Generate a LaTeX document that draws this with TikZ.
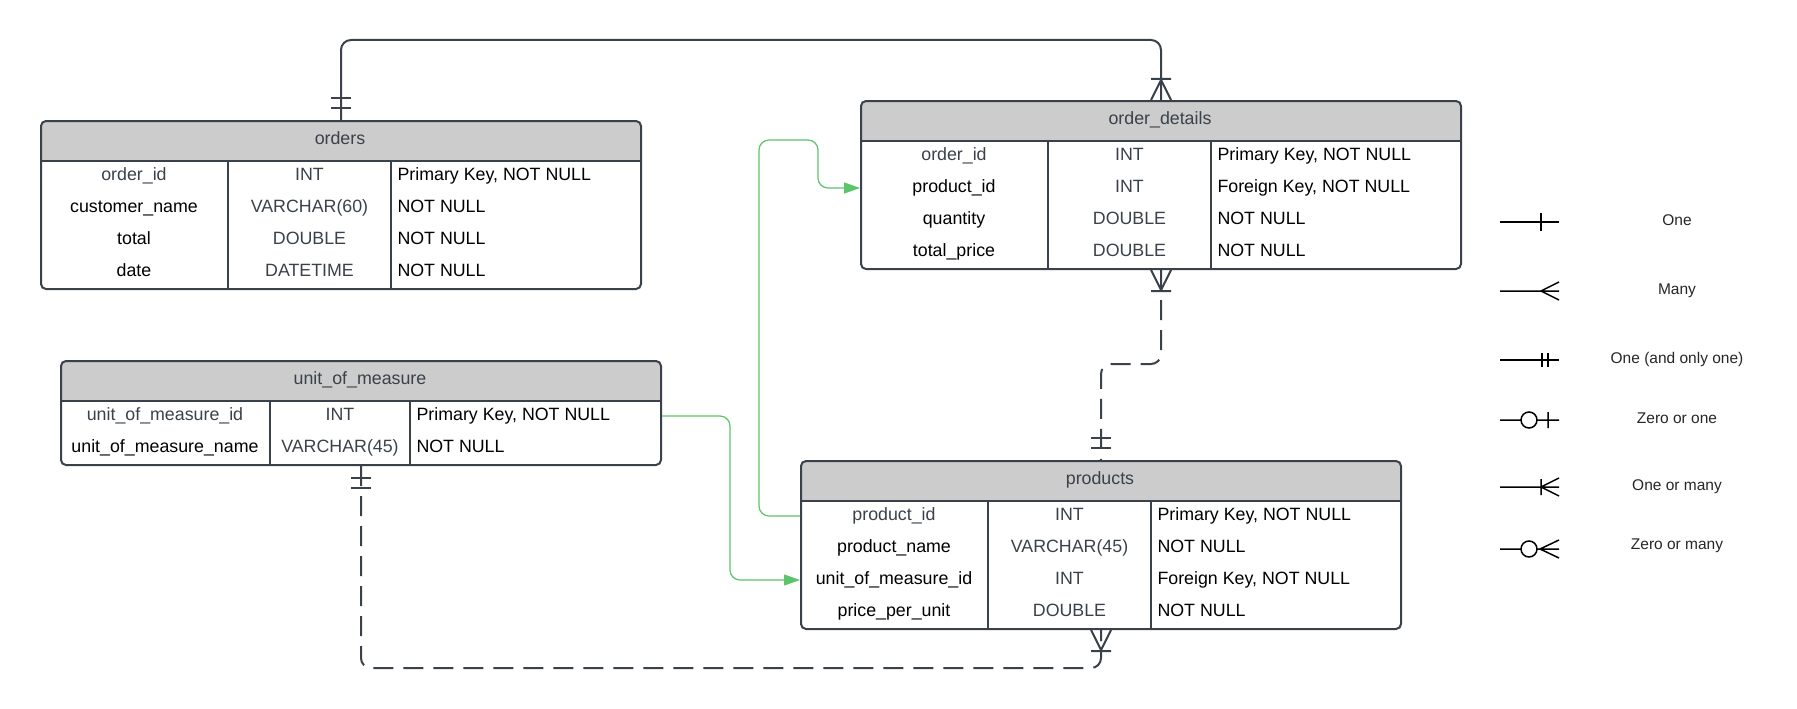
\documentclass[tikz,border=0pt]{standalone}
\usepackage{fontspec}
\setmainfont{Liberation Sans}
\usetikzlibrary{arrows.meta}
\definecolor{ink}{HTML}{3A414A}
\definecolor{hdrfill}{HTML}{CCCCCC}
\definecolor{fkgreen}{HTML}{5CC46A}

\begin{document}
\begin{tikzpicture}[x=1pt,y=-1pt,
  tbl/.style={draw=ink,line width=2pt,rounded corners=5pt,anchor=north west,inner sep=0pt,minimum width=600pt,
    path picture={\fill[hdrfill,sharp corners] (path picture bounding box.north west) rectangle ([yshift=-40pt]path picture bounding box.north east);
      \draw[ink,line width=2pt,sharp corners] ([yshift=-40pt]path picture bounding box.north west) -- ([yshift=-40pt]path picture bounding box.north east);}},
  field/.style={font=\fontsize{17.8}{20}\selectfont,text height=12.8pt,text depth=3.8pt},
  type/.style={field,text=ink},
  cons/.style={field,anchor=west},
  title/.style={field,text=ink},
  col/.style={ink,line width=2pt},
  rel/.style={draw=ink,line width=2pt,rounded corners=10pt},
  optional/.style={dash pattern=on 20pt off 10pt},
  fk/.style={draw=fkgreen,line width=1.2pt,rounded corners=10pt,-{Triangle[length=16pt,width=11pt]}},
  crowline/.style={draw=ink,line width=2pt},
  keyline/.style={draw=black,line width=1.5pt},
  key/.style={font=\fontsize{15.5}{18}\selectfont,text=black!85,text height=11pt,text depth=3.3pt},
  pics/onlyone/.style={code={\draw[crowline] (-10,-12) -- (10,-12) (-10,-22) -- (10,-22);}},
  pics/onemany/.style={code={\draw[crowline] (-10,0) -- (0,-20) -- (10,0) (-10,-21) -- (10,-21);}}]
\useasboundingbox (0,0) rectangle (1797,709);

\node[tbl,minimum height=168pt] (orders) at (40,120) {};
\node[title] (orders-h) at (340,140) {orders};
\draw[col] (228,160) -- (228,288) (391,160) -- (391,288);
\foreach \k/\f/\t/\c [count=\i] in {ink/order\_id/INT/{Primary Key, NOT NULL},black/customer\_name/VARCHAR(60)/{NOT NULL},
  black/total/DOUBLE/{NOT NULL},black/date/DATETIME/{NOT NULL}}
{\node[field,text=\k] (orders-f\i) at (134,144+32*\i) {\f};
 \node[type] (orders-t\i) at (309.5,144+32*\i) {\t};
 \node[cons] (orders-c\i) at (394,144+32*\i) {\c};}

\node[tbl,minimum height=168pt] (details) at (860,100) {};
\node[title] (details-h) at (1160,120) {order\_details};
\draw[col] (1048,140) -- (1048,268) (1211,140) -- (1211,268);
\foreach \k/\f/\t/\c [count=\i] in {ink/order\_id/INT/{Primary Key, NOT NULL},black/product\_id/INT/{Foreign Key, NOT NULL},
  black/quantity/DOUBLE/{NOT NULL},black/total\_price/DOUBLE/{NOT NULL}}
{\node[field,text=\k] (details-f\i) at (954,124+32*\i) {\f};
 \node[type] (details-t\i) at (1129.5,124+32*\i) {\t};
 \node[cons] (details-c\i) at (1214,124+32*\i) {\c};}

\node[tbl,minimum height=104pt] (uom) at (60,360) {};
\node[title] (uom-h) at (360,380) {unit\_of\_measure};
\draw[col] (270,400) -- (270,464) (410,400) -- (410,464);
\foreach \k/\f/\t/\c [count=\i] in {ink/unit\_of\_measure\_id/INT/{Primary Key, NOT NULL},black/unit\_of\_measure\_name/VARCHAR(45)/{NOT NULL}}
{\node[field,text=\k] (uom-f\i) at (165,384+32*\i) {\f};
 \node[type] (uom-t\i) at (340,384+32*\i) {\t};
 \node[cons] (uom-c\i) at (413,384+32*\i) {\c};}

\node[tbl,minimum height=168pt] (products) at (800,460) {};
\node[title] (products-h) at (1100,480) {products};
\draw[col] (988,500) -- (988,628) (1151,500) -- (1151,628);
\foreach \k/\f/\t/\c [count=\i] in {ink/product\_id/INT/{Primary Key, NOT NULL},black/product\_name/VARCHAR(45)/{NOT NULL},
  black/unit\_of\_measure\_id/INT/{Foreign Key, NOT NULL},black/price\_per\_unit/DOUBLE/{NOT NULL}}
{\node[field,text=\k] (products-f\i) at (894,484+32*\i) {\f};
 \node[type] (products-t\i) at (1069.5,484+32*\i) {\t};
 \node[cons] (products-c\i) at (1154,484+32*\i) {\c};}

\coordinate (ridge) at (700,40);
\draw[rel] (orders.north) |- (ridge) -| (details.north);
\pic at (orders.north) {onlyone};
\pic at (details.north) {onemany};

\coordinate (step) at (1130,364);
\draw[rel,optional] (details.south) |- (step) -| (products.north);
\pic[rotate=180] at (details.south) {onemany};
\pic at (products.north) {onlyone};

\coordinate (floor) at (730,668);
\draw[rel,optional] (uom.south) |- (floor) -| (products.south);
\pic[rotate=180] at (uom.south) {onlyone};
\pic[rotate=180] at (products.south) {onemany};

\coordinate (g1) at (759,140);
\coordinate (g2) at (818,188);
\draw[fk] (products.west |- products-f1) -| (g1) -| (g2) -- (details.west |- details-f2);
\coordinate (g3) at (730,500);
\draw[fk] (uom.east |- uom-f1) -| (g3) |- (products.west |- products-f3);

\foreach \y/\txt [count=\i] in {222/One,291/Many,360/{One (and only one)},420/{Zero or one},487/{One or many},546/{Zero or many}}
  \node[key] (key\i) at (1677,\y) {\txt};
\draw[keyline] (1500,222) -- (1559,222) (1541,213) -- (1541,231);
\draw[keyline] (1500,291) -- (1559,291) (1559,282) -- (1541,291) -- (1559,300);
\draw[keyline] (1500,360) -- (1559,360) (1542,353) -- (1542,367) (1548,353) -- (1548,367);
\draw[keyline] (1500,420) -- (1521,420) (1537,420) -- (1559,420) (1548,412) -- (1548,428) (1529,420) circle (8);
\draw[keyline] (1500,487) -- (1559,487) (1541,479) -- (1541,495) (1559,478) -- (1541,487) -- (1559,496);
\draw[keyline] (1500,549) -- (1521,549) (1537,549) -- (1559,549) (1529,549) circle (8) (1559,540) -- (1540,549) -- (1559,558);
\end{tikzpicture}
\end{document}
